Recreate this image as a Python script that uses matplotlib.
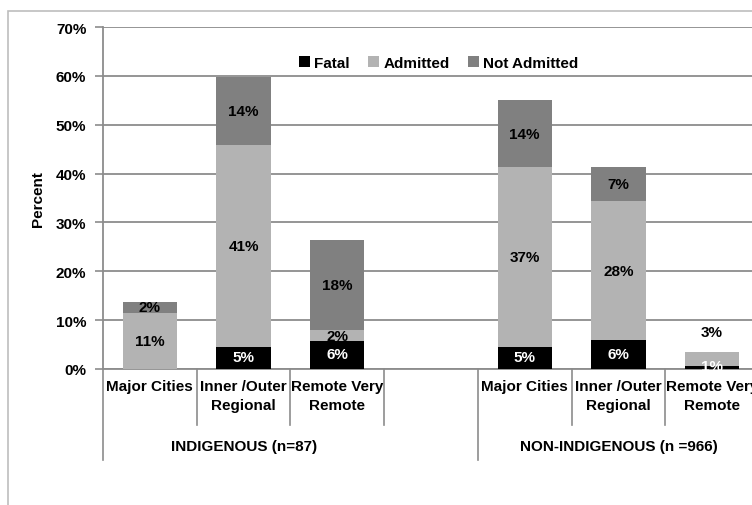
import matplotlib.pyplot as plt
from matplotlib.patches import Rectangle

# data (percent)
groups = ["INDIGENOUS (n=87)", "NON-INDIGENOUS (n =966)"]
regions = ["Major Cities", "Inner /Outer\nRegional", "Remote Very\nRemote"]
fatal = [0.0, 4.5, 5.7, 4.5, 5.9, 0.7]
admitted = [11.5, 41.3, 2.3, 36.8, 28.5, 2.8]
not_admitted = [2.3, 13.9, 18.4, 13.7, 6.9, 0.0]
fatal_lbl = ["", "5%", "6%", "5%", "6%", "1%"]
admitted_lbl = ["11%", "41%", "2%", "37%", "28%", "3%"]
not_admitted_lbl = ["2%", "14%", "18%", "14%", "7%", ""]

plt.rcParams['font.family'] = ['Liberation Sans', 'DejaVu Sans']
plt.rcParams['font.weight'] = 'bold'

fig = plt.figure(figsize=(7.52, 5.06), dpi=100)
ax = fig.add_axes([103 / 752, 1 - 370 / 506, 656 / 752, 342 / 506])

# chart area border (cropped at right/bottom)
fig.patches.append(Rectangle((8 / 752, -0.1), 1.2, 1 - 12 / 506 + 0.1,
                             transform=fig.transFigure, fill=False,
                             edgecolor='#bdbdbd', lw=1.2))

# slot positions: 3 bars, empty slot, 3 bars
xs = [0, 1, 2, 4, 5, 6]
w = 0.58
c_fat, c_adm, c_not = 'black', '#b3b3b3', '#808080'

b1 = [f for f in fatal]
b2 = [f + a for f, a in zip(fatal, admitted)]
ax.bar(xs, fatal, w, color=c_fat, label='Fatal', zorder=3)
ax.bar(xs, admitted, w, bottom=b1, color=c_adm, label='Admitted', zorder=3)
ax.bar(xs, not_admitted, w, bottom=b2, color=c_not, label='Not Admitted', zorder=3)

fs = 11
for i, x in enumerate(xs):
    if fatal_lbl[i]:
        ax.text(x, fatal[i] / 2 + 0.2, fatal_lbl[i], ha='center', va='center',
                color='white', fontsize=fs, zorder=5)
    if admitted_lbl[i]:
        y = b1[i] + admitted[i] / 2
        if i == 5:
            y = 7.5
        ax.text(x, y, admitted_lbl[i], ha='center', va='center',
                color='black', fontsize=fs, zorder=5)
    if not_admitted_lbl[i]:
        ax.text(x, b2[i] + not_admitted[i] / 2, not_admitted_lbl[i], ha='center',
                va='center', color='black', fontsize=fs, zorder=5)

ax.set_ylim(0, 70)
ax.set_xlim(-0.5, 6.5)
ax.set_yticks(range(0, 71, 10))
ax.set_yticklabels([f"{v}%" for v in range(0, 71, 10)], fontsize=fs)
ax.tick_params(axis='y', length=6, color='#8c8c8c', width=1.2, pad=6)
ax.set_xticks([])
ax.yaxis.grid(True, color='#8c8c8c', lw=1.3, zorder=0)
for s in ['top', 'right']:
    ax.spines[s].set_visible(False)
for s in ['left', 'bottom']:
    ax.spines[s].set_color('#8c8c8c')
    ax.spines[s].set_linewidth(1.3)
ax.set_ylabel('Percent', fontsize=fs, fontweight='bold', labelpad=8)

tr = ax.get_xaxis_transform()
# category labels and separators
for k, g in enumerate(groups):
    for j, r in enumerate(regions):
        x = k * 4 + j
        ax.text(x, -0.03, r, transform=tr, ha='center', va='top',
                fontsize=fs, linespacing=1.45)
    ax.text(k * 4 + 1, -0.225, g, transform=tr, ha='center', va='center', fontsize=fs)
for x in [0.5, 1.5, 2.5, 4.5, 5.5]:
    ax.plot([x, x], [0, -0.165], transform=tr, color='#8c8c8c', lw=1.2, clip_on=False)
for x in [-0.5, 3.5]:
    ax.plot([x, x], [0, -0.265], transform=tr, color='#8c8c8c', lw=1.2, clip_on=False)

ax.legend(loc='upper center', bbox_to_anchor=(0.512, 0.955), ncol=3, frameon=False,
          fontsize=fs, handlelength=0.7, handleheight=0.7, handletextpad=0.3,
          columnspacing=1.2)

fig.savefig('out.png', dpi=100)
